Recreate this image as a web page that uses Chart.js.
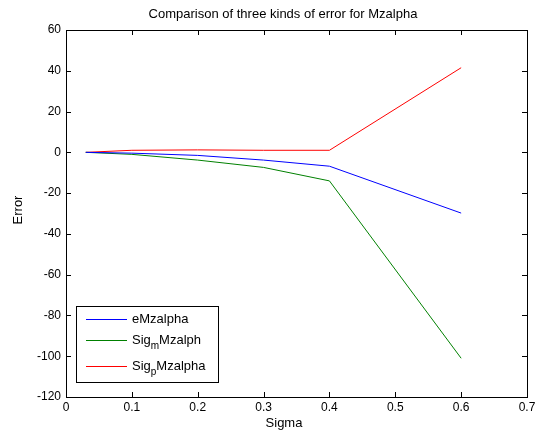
<!DOCTYPE html>
<html>
<head>
<meta charset="utf-8">
<script src="https://cdn.jsdelivr.net/npm/chart.js@4"></script>
<style>
  html, body { margin: 0; padding: 0; background: #fff; }
  #wrap { width: 543px; height: 435px; }
</style>
</head>
<body>
<div id="wrap"><canvas id="errChart"></canvas></div>
<script>
// Data
const sigma = [0.03, 0.1, 0.2, 0.3, 0.4, 0.6]
const eMzalpha = [0, -0.4, -1.5, -3.8, -6.8, -29.8]
const sigmMzalph = [0, -1, -3.8, -7.4, -14, -101]
const sigpMzalpha = [0, 1, 1.2, 1, 1, 41.5]

const xTicks = [0, 0.1, 0.2, 0.3, 0.4, 0.5, 0.6, 0.7]
const yTicks = [60, 40, 20, 0, -20, -40, -60, -80, -100, -120]

// legend entries: [main, subscript, rest]
const legendItems = [
    { color: '#0000ff', parts: ['eMzalpha', '', ''] },
    { color: '#008000', parts: ['Sig', 'm', 'Mzalph'] },
    { color: '#ff0000', parts: ['Sig', 'p', 'Mzalpha'] },
]

const FONT = '"Liberation Sans", Arial, sans-serif'

function pts(ys) {
    return sigma.map((x, i) => ({ x: x, y: ys[i] }))
}

// Setup
const data = {
    datasets: [
        { label: 'eMzalpha', data: pts(eMzalpha), borderColor: '#0000ff' },
        { label: 'SigmMzalph', data: pts(sigmMzalph), borderColor: '#008000' },
        { label: 'SigpMzalpha', data: pts(sigpMzalpha), borderColor: '#ff0000' },
    ].map(d => Object.assign(d, {
        showLine: true, borderWidth: 1, pointRadius: 0, tension: 0, fill: false
    }))
}

// box, inward ticks, title, axis labels, legend
const matlabLook = {
    id: 'matlabLook',
    afterDraw(chart) {
        const ctx = chart.ctx
        const a = chart.chartArea
        const xs = chart.scales.x, ys = chart.scales.y
        ctx.save()
        ctx.strokeStyle = '#000'
        ctx.lineWidth = 1
        ctx.strokeRect(Math.round(a.left) + 0.5, Math.round(a.top) + 0.5,
            Math.round(a.right - a.left), Math.round(a.bottom - a.top))
        ctx.beginPath()
        xTicks.forEach(t => {
            const px = Math.round(xs.getPixelForValue(t)) + 0.5
            ctx.moveTo(px, a.bottom); ctx.lineTo(px, a.bottom - 5)
            ctx.moveTo(px, a.top); ctx.lineTo(px, a.top + 5)
        })
        yTicks.forEach(t => {
            const py = Math.round(ys.getPixelForValue(t)) + 0.5
            ctx.moveTo(a.left, py); ctx.lineTo(a.left + 5, py)
            ctx.moveTo(a.right, py); ctx.lineTo(a.right - 5, py)
        })
        ctx.stroke()

        ctx.fillStyle = '#000'
        ctx.font = '13px ' + FONT
        ctx.textAlign = 'center'
        ctx.textBaseline = 'middle'
        ctx.fillText('Comparison of three kinds of error for Mzalpha', 283, 14)
        ctx.fillText('Sigma', 284, 423)
        ctx.save()
        ctx.translate(18, 210)
        ctx.rotate(-Math.PI / 2)
        ctx.fillText('Error', 0, 0)
        ctx.restore()

        // legend
        ctx.fillStyle = '#fff'
        ctx.fillRect(76, 306, 142, 76)
        ctx.strokeRect(76.5, 306.5, 142, 76)
        const rows = [319, 340, 366]
        legendItems.forEach((it, i) => {
            const y = rows[i]
            ctx.strokeStyle = it.color
            ctx.beginPath()
            ctx.moveTo(86, y + 0.5); ctx.lineTo(127, y + 0.5)
            ctx.stroke()
            ctx.fillStyle = '#000'
            ctx.textAlign = 'left'
            ctx.font = '13px ' + FONT
            let x = 132
            ctx.fillText(it.parts[0], x, y)
            x += ctx.measureText(it.parts[0]).width
            if (it.parts[1]) {
                ctx.font = '10px ' + FONT
                ctx.fillText(it.parts[1], x, y + 6)
                x += ctx.measureText(it.parts[1]).width
                ctx.font = '13px ' + FONT
                ctx.fillText(it.parts[2], x, y)
            }
        })
        ctx.restore()
    }
}

// Config
const config = {
    type: 'scatter',
    data: data,
    options: {
        responsive: true,
        maintainAspectRatio: false,
        animation: false,
        layout: { padding: { left: 0, top: 30, right: 16, bottom: 0 } },
        plugins: {
            legend: { display: false },
            tooltip: { enabled: false },
        },
        scales: {
            x: {
                type: 'linear',
                min: 0, max: 0.7,
                afterBuildTicks: s => { s.ticks = xTicks.map(v => ({ value: v })) },
                afterFit: s => { s.height = 38 },
                grid: { display: false, drawTicks: false },
                border: { display: false },
                ticks: {
                    color: '#000', padding: 3,
                    font: { family: FONT, size: 12 },
                    callback: v => String(Math.round(v * 10) / 10),
                },
            },
            y: {
                type: 'linear',
                min: -120, max: 60,
                afterBuildTicks: s => { s.ticks = yTicks.map(v => ({ value: v })) },
                afterFit: s => { s.width = 66 },
                grid: { display: false, drawTicks: false },
                border: { display: false },
                ticks: {
                    color: '#000', padding: 5,
                    font: { family: FONT, size: 12 },
                },
            },
        },
    },
    plugins: [matlabLook]
}

// Action
const errChart = new Chart(document.getElementById('errChart'), config)
</script>
</body>
</html>
